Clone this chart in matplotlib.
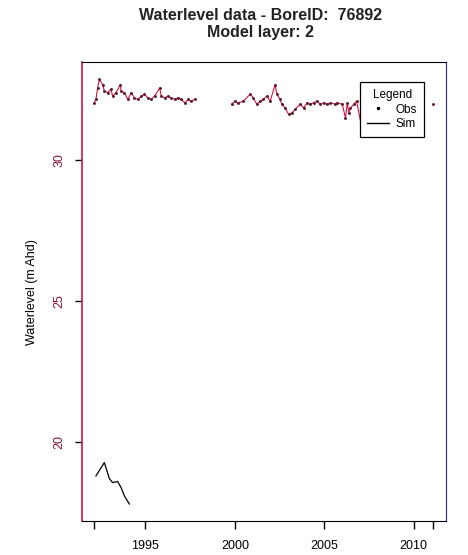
import matplotlib
matplotlib.use('Agg')
import matplotlib.pyplot as plt
from matplotlib.lines import Line2D
import numpy as np

plt.rcParams.update({'font.family': 'Liberation Sans', 'font.size': 9})

# observed water levels (decimal year, m AHD)
obs_year = [1992.13, 1992.23, 1992.32, 1992.42, 1992.60, 1992.70, 1992.88, 1993.07,
            1993.16, 1993.35, 1993.60, 1993.63, 1993.82, 1994.01, 1994.20, 1994.38,
            1994.57, 1994.76, 1994.94, 1995.13, 1995.32, 1995.51, 1995.79, 1995.88,
            1996.07, 1996.25, 1996.44, 1996.63, 1996.81, 1997.01, 1997.19, 1997.38,
            1997.57, 1997.75,
            1999.81, 2000.00, 2000.19, 2000.47, 2000.84, 2001.03, 2001.22, 2001.40,
            2001.59, 2001.78, 2001.97, 2002.25, 2002.34, 2002.53, 2002.62, 2002.81,
            2003.00, 2003.19, 2003.37, 2003.65, 2003.84, 2004.03, 2004.21, 2004.40,
            2004.59, 2004.78, 2004.96, 2005.15, 2005.34, 2005.62, 2005.72, 2006.00,
            2006.18, 2006.28, 2006.37, 2006.46, 2006.65, 2006.80, 2007.02,
            2011.05]
obs_level = [32.03, 32.15, 32.56, 32.86, 32.68, 32.45, 32.39, 32.51,
             32.27, 32.39, 32.68, 32.45, 32.39, 32.15, 32.39, 32.21,
             32.15, 32.27, 32.33, 32.21, 32.15, 32.27, 32.56, 32.27,
             32.21, 32.27, 32.21, 32.15, 32.21, 32.15, 32.03, 32.15,
             32.09, 32.16,
             31.98, 32.09, 32.03, 32.09, 32.33, 32.21, 31.98, 32.09,
             32.15, 32.27, 32.09, 32.68, 32.33, 32.15, 31.98, 31.85,
             31.62, 31.68, 31.80, 31.98, 31.85, 32.03, 31.98, 32.03,
             32.09, 31.98, 32.03, 31.98, 32.03, 31.98, 32.03, 31.98,
             31.50, 32.03, 31.68, 31.85, 31.98, 32.09, 31.38,
             31.98]

# simulated water levels
sim_year = [1992.23, 1992.70, 1992.98, 1993.16, 1993.44, 1993.63, 1993.82, 1994.10]
sim_level = [18.81, 19.28, 18.71, 18.57, 18.61, 18.40, 18.10, 17.81]

xtick_years = [1995, 2000, 2005, 2010]
ytick_levels = [20, 25, 30]

red = '#d0163e'
dark = '#5a1a2a'

fig = plt.figure(figsize=(4.68, 5.55), dpi=100)
ax = fig.add_axes([0.1752, 0.0613, 0.7778, 0.8261])

ox = np.array(obs_year)
oy = np.array(obs_level)
breaks = np.where(np.diff(ox) > 1.0)[0] + 1
for sx, sy in zip(np.split(ox, breaks), np.split(oy, breaks)):
    ax.plot(sx, sy, '-', color=red, lw=0.8)
    ax.plot(sx, sy, '.', color=dark, ms=2.2)

ax.plot(sim_year, sim_level, '-', color='black', lw=0.9)

ax.set_xlim(1991.45, 2011.8)
ax.set_ylim(17.21, 33.46)

ax.set_xticks([obs_year[0]] + xtick_years + [obs_year[-1]])
ax.set_xticklabels([''] + [str(y) for y in xtick_years] + [''])
ax.set_yticks(ytick_levels)
ax.set_yticklabels([str(v) for v in ytick_levels], rotation=90, va='center', color='#8a1030')
ax.tick_params(axis='x', direction='out', length=6, width=1, pad=8)
ax.tick_params(axis='y', direction='out', length=5, width=1, pad=7)

ax.spines['left'].set_color(red)
ax.spines['left'].set_linewidth(1.2)
ax.spines['right'].set_color('#2a2a9a')
ax.spines['top'].set_color('black')
ax.spines['bottom'].set_color('black')

ax.set_ylabel('Waterlevel (m Ahd)', fontsize=9)
ax.yaxis.set_label_coords(-0.12, 0.5)
fig.text(0.556, 0.972, 'Waterlevel data - BoreID:  76892', ha='center', va='center',
         fontsize=11.5, fontweight='bold', color='#222222')
fig.text(0.556, 0.942, 'Model layer: 2', ha='center', va='center',
         fontsize=11.5, fontweight='bold', color='#222222')

handles = [Line2D([], [], ls='none', marker='.', ms=3, color='black'),
           Line2D([], [], ls='-', lw=1, color='black')]
leg = ax.legend(handles, ['Obs', 'Sim'], title='Legend', loc='upper left',
                bbox_to_anchor=(0.755, 0.965), fancybox=False, framealpha=1,
                edgecolor='black', fontsize=8.5, title_fontsize=8.5,
                handlelength=1.8, handletextpad=0.6, borderpad=0.6,
                borderaxespad=0.3, labelspacing=0.2)
leg.get_frame().set_linewidth(0.9)

fig.savefig('out.png', dpi=100)
